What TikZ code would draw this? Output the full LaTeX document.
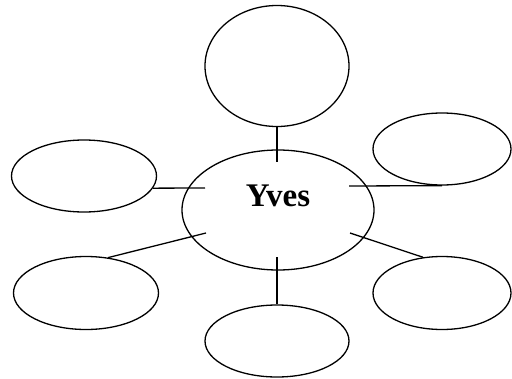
\documentclass[tikz,border=0pt]{standalone}
\usepackage{fontspec}
\setmainfont{Liberation Serif}
\usetikzlibrary{shapes.geometric}

\tikzset{
  bubble/.style={draw, ellipse, line width=1.3pt, inner sep=0pt,
    minimum width=144pt, minimum height=72pt},
  spoke/.style={line width=1.3pt}
}

\begin{document}
\begin{tikzpicture}[x=1pt, y=-1pt]
  \useasboundingbox (0,0) rectangle (512,378);

  % centre
  \node[bubble, minimum width=192pt, minimum height=120pt, text depth=28pt,
        font=\fontsize{33}{39}\selectfont\bfseries] (yves) at (278,210) {Yves};

  % outer bubbles
  \node[bubble, minimum height=121pt] (top) at (277,66) {};
  \node[bubble, minimum width=145pt] (upleft) at (84,176) {};
  \node[bubble, minimum width=145pt, minimum height=73pt] (lowleft) at (86,293) {};
  \node[bubble, minimum width=138pt] (upright) at (442,149) {};
  \node[bubble, minimum width=138pt, minimum height=73pt] (lowright) at (442,293) {};
  \node[bubble] (bottom) at (277,341) {};

  % free ends inside the centre
  \coordinate (yt) at (277,162);
  \coordinate (yl) at (205,188);
  \coordinate (yr) at (349,186);
  \coordinate (yll) at (206,233);
  \coordinate (ylr) at (350,233);
  \coordinate (yb) at (277,257);

  \draw[spoke] (top.south) -- (yt);
  \draw[spoke] (upleft.-10) -- (yl);
  \draw[spoke] (upright.south) -- (yr);
  \draw[spoke] (lowleft.58) -- (yll);
  \draw[spoke] (lowright.118) -- (ylr);
  \draw[spoke] (bottom.north) -- (yb);
\end{tikzpicture}
\end{document}
